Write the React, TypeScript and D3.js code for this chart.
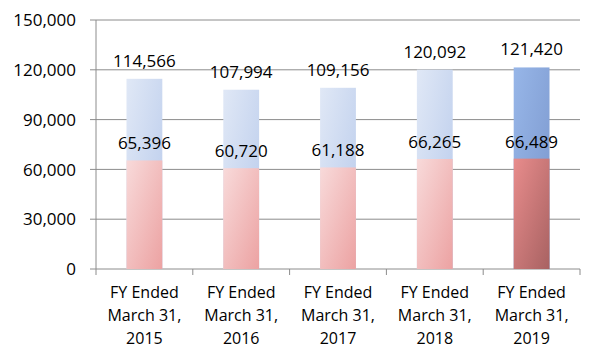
import React from "react";
import * as d3 from "d3";

const categories = [
  ["FY Ended", "March 31,", "2015"],
  ["FY Ended", "March 31,", "2016"],
  ["FY Ended", "March 31,", "2017"],
  ["FY Ended", "March 31,", "2018"],
  ["FY Ended", "March 31,", "2019"],
];
const totalValues = [114566, 107994, 109156, 120092, 121420];
const baseValues = [65396, 60720, 61188, 66265, 66489];
const yTicks = [0, 30000, 60000, 90000, 120000, 150000];

const width = 600;
const height = 359;
const margin = { top: 20, right: 20, bottom: 90, left: 96 };
const font = "'Open Sans', 'Noto Sans', sans-serif";

const App: React.FC = () => {
  const innerWidth = width - margin.left - margin.right;
  const innerHeight = height - margin.top - margin.bottom;
  const keys = categories.map((c) => c[2]);

  const x = d3.scaleBand<string>().domain(keys).range([0, innerWidth]);
  const y = d3.scaleLinear().domain([0, 150000]).range([innerHeight, 0]);
  const barW = x.bandwidth() * 0.37;
  const fmt = d3.format(",");

  return (
    <svg
      width={width}
      height={height}
      style={{ position: "absolute", left: 0, top: 0, background: "#fff" }}
    >
      <defs>
        <linearGradient id="blueA" x1="0" y1="0" x2="1" y2="1">
          <stop offset="0%" stopColor="#e0e8f6" />
          <stop offset="100%" stopColor="#b8caeb" />
        </linearGradient>
        <linearGradient id="redA" x1="0" y1="0" x2="1" y2="1">
          <stop offset="0%" stopColor="#f8dada" />
          <stop offset="100%" stopColor="#eca2a2" />
        </linearGradient>
        <linearGradient id="blueB" x1="0" y1="0" x2="1" y2="1">
          <stop offset="0%" stopColor="#97b6e8" />
          <stop offset="100%" stopColor="#7a96cc" />
        </linearGradient>
        <linearGradient id="redB" x1="0" y1="0" x2="1" y2="1">
          <stop offset="0%" stopColor="#e88c8c" />
          <stop offset="100%" stopColor="#a86262" />
        </linearGradient>
      </defs>
      <g transform={`translate(${margin.left},${margin.top})`}>
        {yTicks.map((t) => (
          <g key={`g-${t}`}>
            <line
              x1={-6}
              x2={innerWidth}
              y1={y(t)}
              y2={y(t)}
              stroke="#8c8c8c"
              strokeWidth={1}
            />
            <text
              x={-20}
              y={y(t)}
              dy="0.36em"
              textAnchor="end"
              fontFamily={font}
              fontSize={17}
              fill="#000"
            >
              {fmt(t)}
            </text>
          </g>
        ))}
        <line x1={0} x2={0} y1={0} y2={innerHeight} stroke="#8c8c8c" />
        {[...keys.map((k) => x(k) ?? 0), innerWidth].map((px, i) => (
          <line
            key={`t-${i}`}
            x1={px}
            x2={px}
            y1={innerHeight}
            y2={innerHeight + 6}
            stroke="#8c8c8c"
          />
        ))}

        {keys.map((k, i) => {
          const cx = (x(k) ?? 0) + x.bandwidth() / 2;
          const last = i === keys.length - 1;
          return (
            <g key={`b-${k}`}>
              <rect
                x={cx - barW / 2}
                y={y(totalValues[i])}
                width={barW}
                height={innerHeight - y(totalValues[i])}
                fill={last ? "url(#blueB)" : "url(#blueA)"}
              />
              <rect
                x={cx - barW / 2}
                y={y(baseValues[i])}
                width={barW}
                height={innerHeight - y(baseValues[i])}
                fill={last ? "url(#redB)" : "url(#redA)"}
              />
              <text
                x={cx}
                y={y(totalValues[i]) - 12}
                textAnchor="middle"
                fontFamily={font}
                fontSize={17}
                fill="#000"
              >
                {fmt(totalValues[i])}
              </text>
              <text
                x={cx}
                y={y(baseValues[i]) - 11}
                textAnchor="middle"
                fontFamily={font}
                fontSize={17}
                fill="#000"
              >
                {fmt(baseValues[i])}
              </text>
              {categories[i].map((line, j) => (
                <text
                  key={`l-${j}`}
                  x={cx}
                  y={innerHeight + 29 + j * 23}
                  textAnchor="middle"
                  fontFamily={font}
                  fontSize={16}
                  fill="#000"
                >
                  {line}
                </text>
              ))}
            </g>
          );
        })}
      </g>
    </svg>
  );
};

export default App;
